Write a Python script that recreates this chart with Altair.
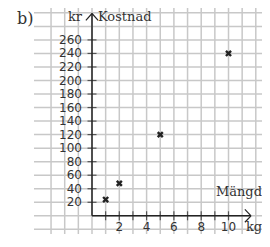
import altair as alt
import pandas as pd

# data
amount = [1, 2, 5, 10]          # kg
cost = [24, 48, 120, 240]       # kr
y_ticks = [20, 40, 60, 80, 100, 120, 140, 160, 180, 200, 220, 240, 260]
x_tick_marks = [1, 2, 3, 4, 5, 6, 7, 8, 9, 10]
x_tick_labels = [2, 4, 6, 8, 10]
grid_x = list(range(-3, 14))
grid_y = list(range(-40, 301, 20))

W, H = 254, 226
XA, XB = -6.154, 12.454
YB, YT = -26.9, 307.17
xs = alt.Scale(domain=[XA, XB], range=[0, W], nice=False, zero=False)
ys = alt.Scale(domain=[YB, YT], range=[H, 0], nice=False, zero=False)

GRID = "#c8c8c8"
INK = "#222222"
TXT = "#333333"
SANS = "DejaVu Sans"
SERIF = "DejaVu Serif"

X = lambda f="x": alt.X(f"{f}:Q", scale=xs, axis=None)
Y = lambda f="y": alt.Y(f"{f}:Q", scale=ys, axis=None)

gv = alt.Chart(pd.DataFrame({"x": grid_x})).mark_rule(color=GRID, strokeWidth=1.5).encode(
    x=X(), y=alt.value(0), y2=alt.value(H))
gh = alt.Chart(pd.DataFrame({"y": grid_y})).mark_rule(color=GRID, strokeWidth=1.5).encode(
    y=Y(), x=alt.value(26), x2=alt.value(W))

# axes
axes_df = pd.DataFrame({"x": [0, 0], "y": [0, 0], "x2": [0, 11.65], "y2": [299, 0]})
axes = alt.Chart(axes_df).mark_rule(color=INK, strokeWidth=1.5).encode(
    x=X(), y=Y(), x2="x2:Q", y2="y2:Q")

# arrowheads
arr_df = pd.DataFrame({
    "x": [0, 0, 11.65, 11.65],
    "y": [299, 299, 0, 0],
    "x2": [-0.45, 0.45, 11.2, 11.2],
    "y2": [289, 289, 9.5, -9.5],
})
arrows = alt.Chart(arr_df).mark_rule(color=INK, strokeWidth=1.2).encode(
    x=X(), y=Y(), x2="x2:Q", y2="y2:Q")

# ticks
yt_df = pd.DataFrame({"y": y_ticks})
ytick = alt.Chart(yt_df).mark_tick(color=INK, orient="horizontal", size=9, thickness=1.2).encode(
    x=alt.X("x:Q", scale=xs, axis=None), y=Y()).transform_calculate(x="0")
ylab = alt.Chart(yt_df).mark_text(align="right", baseline="middle", dx=-10, fontSize=12,
                                  font=SANS, color=TXT).encode(
    x=alt.X("x:Q", scale=xs, axis=None), y=Y(), text="y:Q").transform_calculate(x="0")

xt_df = pd.DataFrame({"x": x_tick_marks})
xtick = alt.Chart(xt_df).mark_tick(color=INK, orient="vertical", size=9, thickness=1.2).encode(
    x=X(), y=alt.Y("y:Q", scale=ys, axis=None)).transform_calculate(y="0")
xlab = alt.Chart(pd.DataFrame({"x": x_tick_labels})).mark_text(
    baseline="middle", dy=11, fontSize=12, font=SANS, color=TXT).encode(
    x=X(), y=alt.Y("y:Q", scale=ys, axis=None), text="x:Q").transform_calculate(y="0")

# points
pts = alt.Chart(pd.DataFrame({"x": amount, "y": cost})).mark_point(
    shape="M-1,-1L1,1M-1,1L1,-1", size=26, strokeWidth=2.4, color=INK, filled=False, opacity=1).encode(
    x=X(), y=Y())

# annotations
def label(txt, px, py, align="left", size=13, font=SERIF):
    return alt.Chart(pd.DataFrame({"t": [txt]})).mark_text(
        align=align, baseline="alphabetic", fontSize=size, font=font, color=TXT).encode(
        x=alt.value(px), y=alt.value(py), text="t:N")

ann = [
    label("b)", 9, 16, size=16),
    label("kr", 74, 13, align="right"),
    label("Kostnad", 90, 13),
    label("Mängd", 254, 188, align="right"),
    label("kg", 246, 223, align="center"),
]

chart = alt.layer(gv, gh, axes, arrows, ytick, ylab, xtick, xlab, pts, *ann).properties(
    width=W, height=H, padding=0, autosize="none", background="white"
).configure_view(strokeWidth=0)

chart.save("out.html", embed_options={"renderer": "svg", "actions": False})
